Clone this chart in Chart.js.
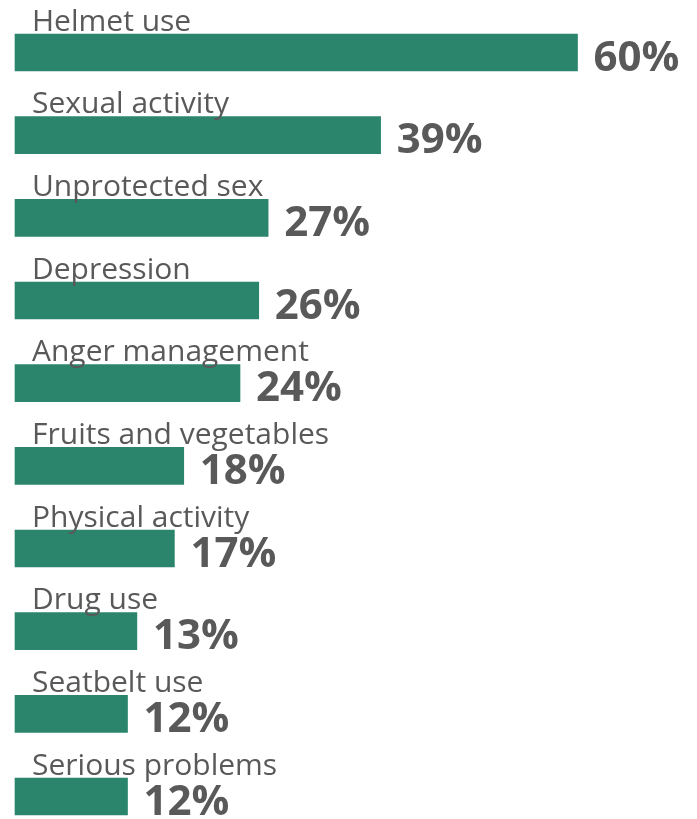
<!DOCTYPE html>
<html>
<head>
<meta charset="utf-8">
<script src="https://cdn.jsdelivr.net/npm/chart.js@4"></script>
<style>
  html, body { margin: 0; padding: 0; background: #ffffff; }
  #wrap { width: 697px; height: 819px; position: relative; }
</style>
</head>
<body>
<div id="wrap"><canvas id="chart"></canvas></div>
<script>
// Share of respondents by topic (%)
const categories = [
  "Helmet use",
  "Sexual activity",
  "Unprotected sex",
  "Depression",
  "Anger management",
  "Fruits and vegetables",
  "Physical activity",
  "Drug use",
  "Seatbelt use",
  "Serious problems"
];
const values = [60, 39, 27, 26, 24, 18, 17, 13, 12, 12];

const BAR_COLOR = "#2a856c";
const TEXT_COLOR = "#595959";
const FONT = "'Open Sans', 'Noto Sans', sans-serif";

// Draws the topic name above each bar and the bold percentage after it
const barLabels = {
  id: "barLabels",
  afterDatasetsDraw(chart) {
    const ctx = chart.ctx;
    const meta = chart.getDatasetMeta(0);
    ctx.save();
    ctx.fillStyle = TEXT_COLOR;
    ctx.textAlign = "left";
    ctx.textBaseline = "alphabetic";
    meta.data.forEach((bar, i) => {
      const half = bar.height / 2;
      ctx.font = "400 30px " + FONT;
      ctx.fillText(categories[i], bar.base + 17, bar.y - half - 3.5);

      ctx.font = "700 42px " + FONT;
      ctx.fillText(values[i] + "%", bar.x + 16, bar.y + half - 0.5);
    });
    ctx.restore();
  }
};

new Chart(document.getElementById("chart"), {
  type: "bar",
  data: {
    labels: categories,
    datasets: [{
      data: values,
      backgroundColor: BAR_COLOR,
      borderWidth: 0,
      barThickness: 37,
      clip: false
    }]
  },
  options: {
    indexAxis: "y",
    responsive: true,
    maintainAspectRatio: false,
    animation: false,
    layout: { padding: { left: 15, right: 7, top: 52.5, bottom: 22.5 } },
    scales: {
      x: { display: false, min: 0, max: 72 },
      y: { display: false, offset: false }
    },
    plugins: {
      legend: { display: false },
      tooltip: { enabled: false }
    }
  },
  plugins: [barLabels]
});
</script>
</body>
</html>
